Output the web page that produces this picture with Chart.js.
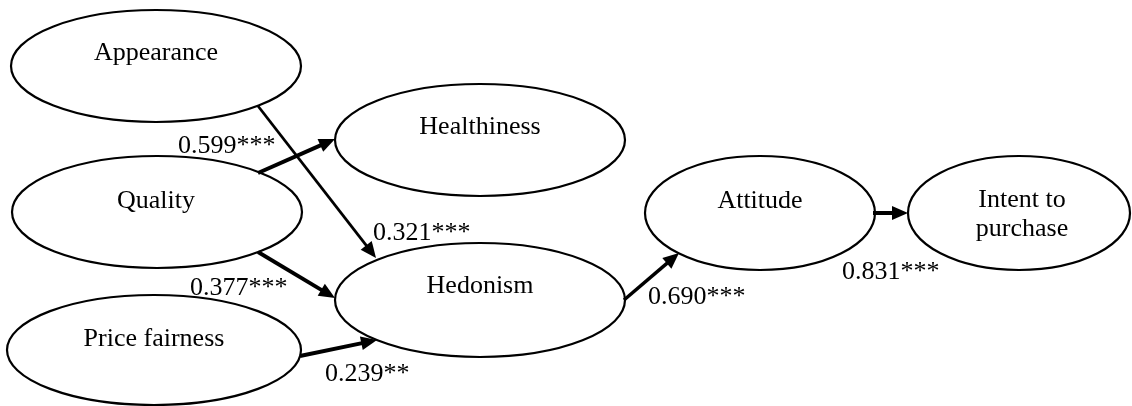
<!DOCTYPE html>
<html>
<head>
<meta charset="utf-8">
<script src="https://cdn.jsdelivr.net/npm/chart.js@4.4.0/dist/chart.umd.min.js"></script>
<style>
    html, body { margin: 0; padding: 0; background: #fff; }
    #wrap { width: 1132px; height: 406px; position: relative; }
</style>
</head>
<body>
<div id="wrap"><canvas id="pathChart"></canvas></div>
<script>
// constructs in the model
const constructs = ['Appearance', 'Healthiness', 'Quality', 'Price fairness', 'Hedonism', 'Attitude', 'Intent to purchase'];

// structural paths and their coefficients
const pathFrom = ['Appearance', 'Quality', 'Quality', 'Price fairness', 'Hedonism', 'Attitude'];
const pathTo = ['Hedonism', 'Healthiness', 'Hedonism', 'Hedonism', 'Attitude', 'Intent to purchase'];
const pathCoef = [0.321, 0.599, 0.377, 0.239, 0.690, 0.831];
const pathSig = ['***', '***', '***', '**', '***', '***'];

// drawing layout (canvas units, 1:1 with the scales below)
const nodeLayout = {
    'Appearance':         { cx: 156, cy: 66,  rx: 145, ry: 56, lines: ['Appearance'], tx: 156, ty: [60] },
    'Healthiness':        { cx: 480, cy: 140, rx: 145, ry: 56, lines: ['Healthiness'], tx: 480, ty: [134] },
    'Quality':            { cx: 157, cy: 212, rx: 145, ry: 56, lines: ['Quality'], tx: 156, ty: [208] },
    'Price fairness':     { cx: 154, cy: 350, rx: 147, ry: 55, lines: ['Price fairness'], tx: 154, ty: [346] },
    'Hedonism':           { cx: 480, cy: 300, rx: 145, ry: 57, lines: ['Hedonism'], tx: 480, ty: [293] },
    'Attitude':           { cx: 760, cy: 213, rx: 115, ry: 57, lines: ['Attitude'], tx: 760, ty: [208] },
    'Intent to purchase': { cx: 1019, cy: 213, rx: 111, ry: 57, lines: ['Intent to', 'purchase'], tx: 1022, ty: [207, 236] }
};

const pathLayout = [
    { from: [258, 106], tip: [376, 258], width: 2.8, label: [373, 240] },
    { from: [258, 173], tip: [335, 139], width: 4.0, label: [178, 153] },
    { from: [258, 252], tip: [335, 298], width: 3.8, label: [190, 295] },
    { from: [300, 356], tip: [377, 340], width: 4.0, label: [325, 381] },
    { from: [624, 300], tip: [679, 253], width: 3.5, label: [648, 304] },
    { from: [873, 213], tip: [908, 213], width: 4.0, label: [842, 279] }
];

const HEAD_LEN = 16;
const HEAD_HALF = 7;
const FONT = "26px 'Liberation Serif', 'Times New Roman', serif";

// shaft of each arrow stops just inside the arrow head
const datasets = pathCoef.map((c, i) => {
    const p = pathLayout[i];
    const dx = p.tip[0] - p.from[0], dy = p.tip[1] - p.from[1];
    const len = Math.sqrt(dx * dx + dy * dy);
    const k = (len - HEAD_LEN + 2) / len;
    return {
        label: pathFrom[i] + ' -> ' + pathTo[i],
        data: [
            { x: p.from[0], y: p.from[1] },
            { x: p.from[0] + dx * k, y: p.from[1] + dy * k }
        ],
        showLine: true,
        borderColor: '#000',
        borderWidth: p.width,
        pointRadius: 0,
        borderCapStyle: 'butt'
    };
});

const diagramPlugin = {
    id: 'diagram',
    beforeDatasetsDraw(chart) {
        const ctx = chart.ctx;
        const xs = chart.scales.x, ys = chart.scales.y;
        ctx.save();
        constructs.forEach(name => {
            const n = nodeLayout[name];
            const cx = xs.getPixelForValue(n.cx), cy = ys.getPixelForValue(n.cy);
            const rx = xs.getPixelForValue(n.cx + n.rx) - cx;
            const ry = ys.getPixelForValue(n.cy + n.ry) - cy;
            ctx.beginPath();
            ctx.ellipse(cx, cy, Math.abs(rx), Math.abs(ry), 0, 0, Math.PI * 2);
            ctx.fillStyle = '#fff';
            ctx.fill();
            ctx.lineWidth = 2.2;
            ctx.strokeStyle = '#000';
            ctx.stroke();

            ctx.fillStyle = '#000';
            ctx.font = FONT;
            ctx.textAlign = 'center';
            ctx.textBaseline = 'alphabetic';
            n.lines.forEach((t, j) => {
                ctx.fillText(t, xs.getPixelForValue(n.tx), ys.getPixelForValue(n.ty[j]));
            });
        });
        ctx.restore();
    },
    afterDatasetsDraw(chart) {
        const ctx = chart.ctx;
        const xs = chart.scales.x, ys = chart.scales.y;
        ctx.save();
        pathLayout.forEach((p, i) => {
            const x0 = xs.getPixelForValue(p.from[0]), y0 = ys.getPixelForValue(p.from[1]);
            const x1 = xs.getPixelForValue(p.tip[0]), y1 = ys.getPixelForValue(p.tip[1]);
            const a = Math.atan2(y1 - y0, x1 - x0);
            const bx = x1 - HEAD_LEN * Math.cos(a), by = y1 - HEAD_LEN * Math.sin(a);
            ctx.beginPath();
            ctx.moveTo(x1, y1);
            ctx.lineTo(bx + HEAD_HALF * Math.sin(a), by - HEAD_HALF * Math.cos(a));
            ctx.lineTo(bx - HEAD_HALF * Math.sin(a), by + HEAD_HALF * Math.cos(a));
            ctx.closePath();
            ctx.fillStyle = '#000';
            ctx.fill();

            // coefficient label
            ctx.font = FONT;
            ctx.textAlign = 'left';
            ctx.textBaseline = 'alphabetic';
            ctx.fillText(pathCoef[i].toFixed(3) + pathSig[i],
                xs.getPixelForValue(p.label[0]), ys.getPixelForValue(p.label[1]));
        });
        ctx.restore();
    }
};

const ctx = document.getElementById('pathChart').getContext('2d');
const pathChart = new Chart(ctx, {
    type: 'scatter',
    data: { datasets: datasets },
    options: {
        responsive: true,
        maintainAspectRatio: false,
        animation: false,
        events: [],
        layout: { padding: 0 },
        plugins: {
            legend: { display: false },
            tooltip: { enabled: false }
        },
        scales: {
            x: { type: 'linear', min: 0, max: 1132, display: false },
            y: { type: 'linear', min: 0, max: 406, reverse: true, display: false }
        }
    },
    plugins: [diagramPlugin]
});
</script>
</body>
</html>
